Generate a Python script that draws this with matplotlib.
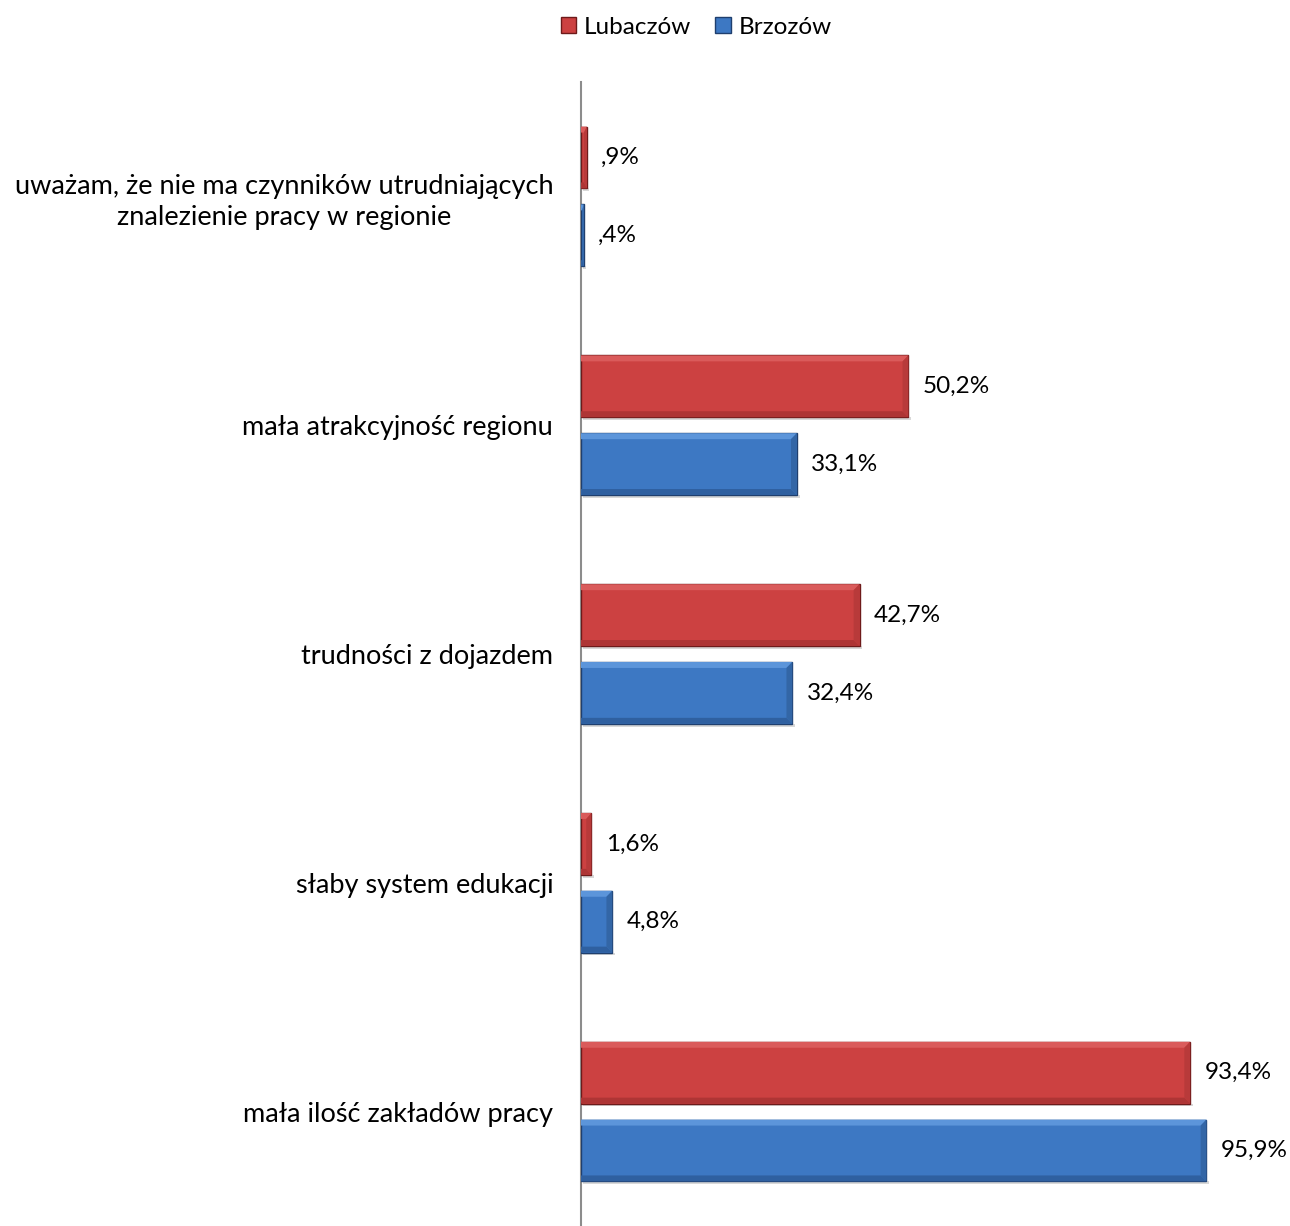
import matplotlib
matplotlib.use("Agg")
import matplotlib.pyplot as plt
from matplotlib.patches import Polygon, Patch
import numpy as np

categories = [
    "uważam, że nie ma czynników utrudniających\nznalezienie pracy w regionie",
    "mała atrakcyjność regionu",
    "trudności z dojazdem",
    "słaby system edukacji",
    "mała ilość zakładów pracy",
]
lubaczow = [0.9, 50.2, 42.7, 1.6, 93.4]
brzozow = [0.4, 33.1, 32.4, 4.8, 95.9]
lub_labels = [",9%", "50,2%", "42,7%", "1,6%", "93,4%"]
brz_labels = [",4%", "33,1%", "32,4%", "4,8%", "95,9%"]
series_names = ["Lubaczów", "Brzozów"]

plt.rcParams['font.family'] = ['Lato', 'DejaVu Sans']

fig = plt.figure(figsize=(12.9, 12.26), dpi=100)
ax = fig.add_axes([581/1290, 0.0, 0.956 - 581/1290, 1 - 82/1226])

y = np.arange(len(categories))
h = 0.27
off = 0.17
red = "#CC4141"
blue = "#3D78C3"
red_edge = "#6E1A1A"
blue_edge = "#1F3F6E"

b1 = ax.barh(y - off, lubaczow, height=h, color=red, edgecolor=red_edge, linewidth=1.0, zorder=3)
b2 = ax.barh(y + off, brzozow, height=h, color=blue, edgecolor=blue_edge, linewidth=1.0, zorder=3)

def bevel(bars, light, dark, darker):
    for p in bars.patches:
        x0, y0 = p.get_x(), p.get_y()
        w, hh = p.get_width(), p.get_height()
        bx = min(0.9, w / 2)
        by = 0.026
        ax.add_patch(Polygon([(x0, y0), (x0 + w, y0), (x0 + w - bx, y0 + by), (x0, y0 + by)],
                             closed=True, facecolor=light, edgecolor='none', zorder=4))
        ax.add_patch(Polygon([(x0, y0 + hh), (x0 + w, y0 + hh), (x0 + w - bx, y0 + hh - by), (x0, y0 + hh - by)],
                             closed=True, facecolor=dark, edgecolor='none', zorder=4))
        ax.add_patch(Polygon([(x0 + w, y0), (x0 + w, y0 + hh), (x0 + w - bx, y0 + hh - by), (x0 + w - bx, y0 + by)],
                             closed=True, facecolor=darker, edgecolor='none', zorder=4))
        ax.add_patch(Polygon([(x0 + 0.3, y0 + hh), (x0 + w + 0.4, y0 + hh), (x0 + w + 0.4, y0 + hh + 0.012), (x0 + 0.3, y0 + hh + 0.012)],
                             closed=True, facecolor='#d8d8d8', edgecolor='none', zorder=2))

bevel(b1, "#DA5B5B", "#AE3535", "#B83A3A")
bevel(b2, "#5C95DA", "#2F60A0", "#3366A6")

for yi, v, t in zip(y - off, lubaczow, lub_labels):
    ax.text(v + 2.2, yi, t, va='center', ha='left', fontsize=17.5, color='#000000')
for yi, v, t in zip(y + off, brzozow, brz_labels):
    ax.text(v + 2.2, yi, t, va='center', ha='left', fontsize=17.5, color='#000000')

ax.set_xlim(0, 100)
ax.set_ylim(len(categories) - 0.5, -0.5)
ax.set_yticks(y)
ax.set_yticklabels(categories, fontsize=19.5, ha='right', multialignment='center', linespacing=1.3)
ax.tick_params(axis='y', length=0, pad=20)
ax.set_xticks([])
for s in ['top', 'right', 'bottom']:
    ax.spines[s].set_visible(False)
ax.spines['left'].set_color('#8c8c8c')
ax.spines['left'].set_linewidth(1.5)

handles = [Patch(facecolor=red, edgecolor=red_edge), Patch(facecolor=blue, edgecolor=blue_edge)]
fig.legend(handles, series_names, loc='center', bbox_to_anchor=(696/1290, 1 - 27/1226),
           ncol=2, frameon=False, fontsize=17.5, handlelength=0.65, handleheight=0.65,
           handletextpad=0.3, columnspacing=1.0)

fig.savefig("out.png", dpi=100)
